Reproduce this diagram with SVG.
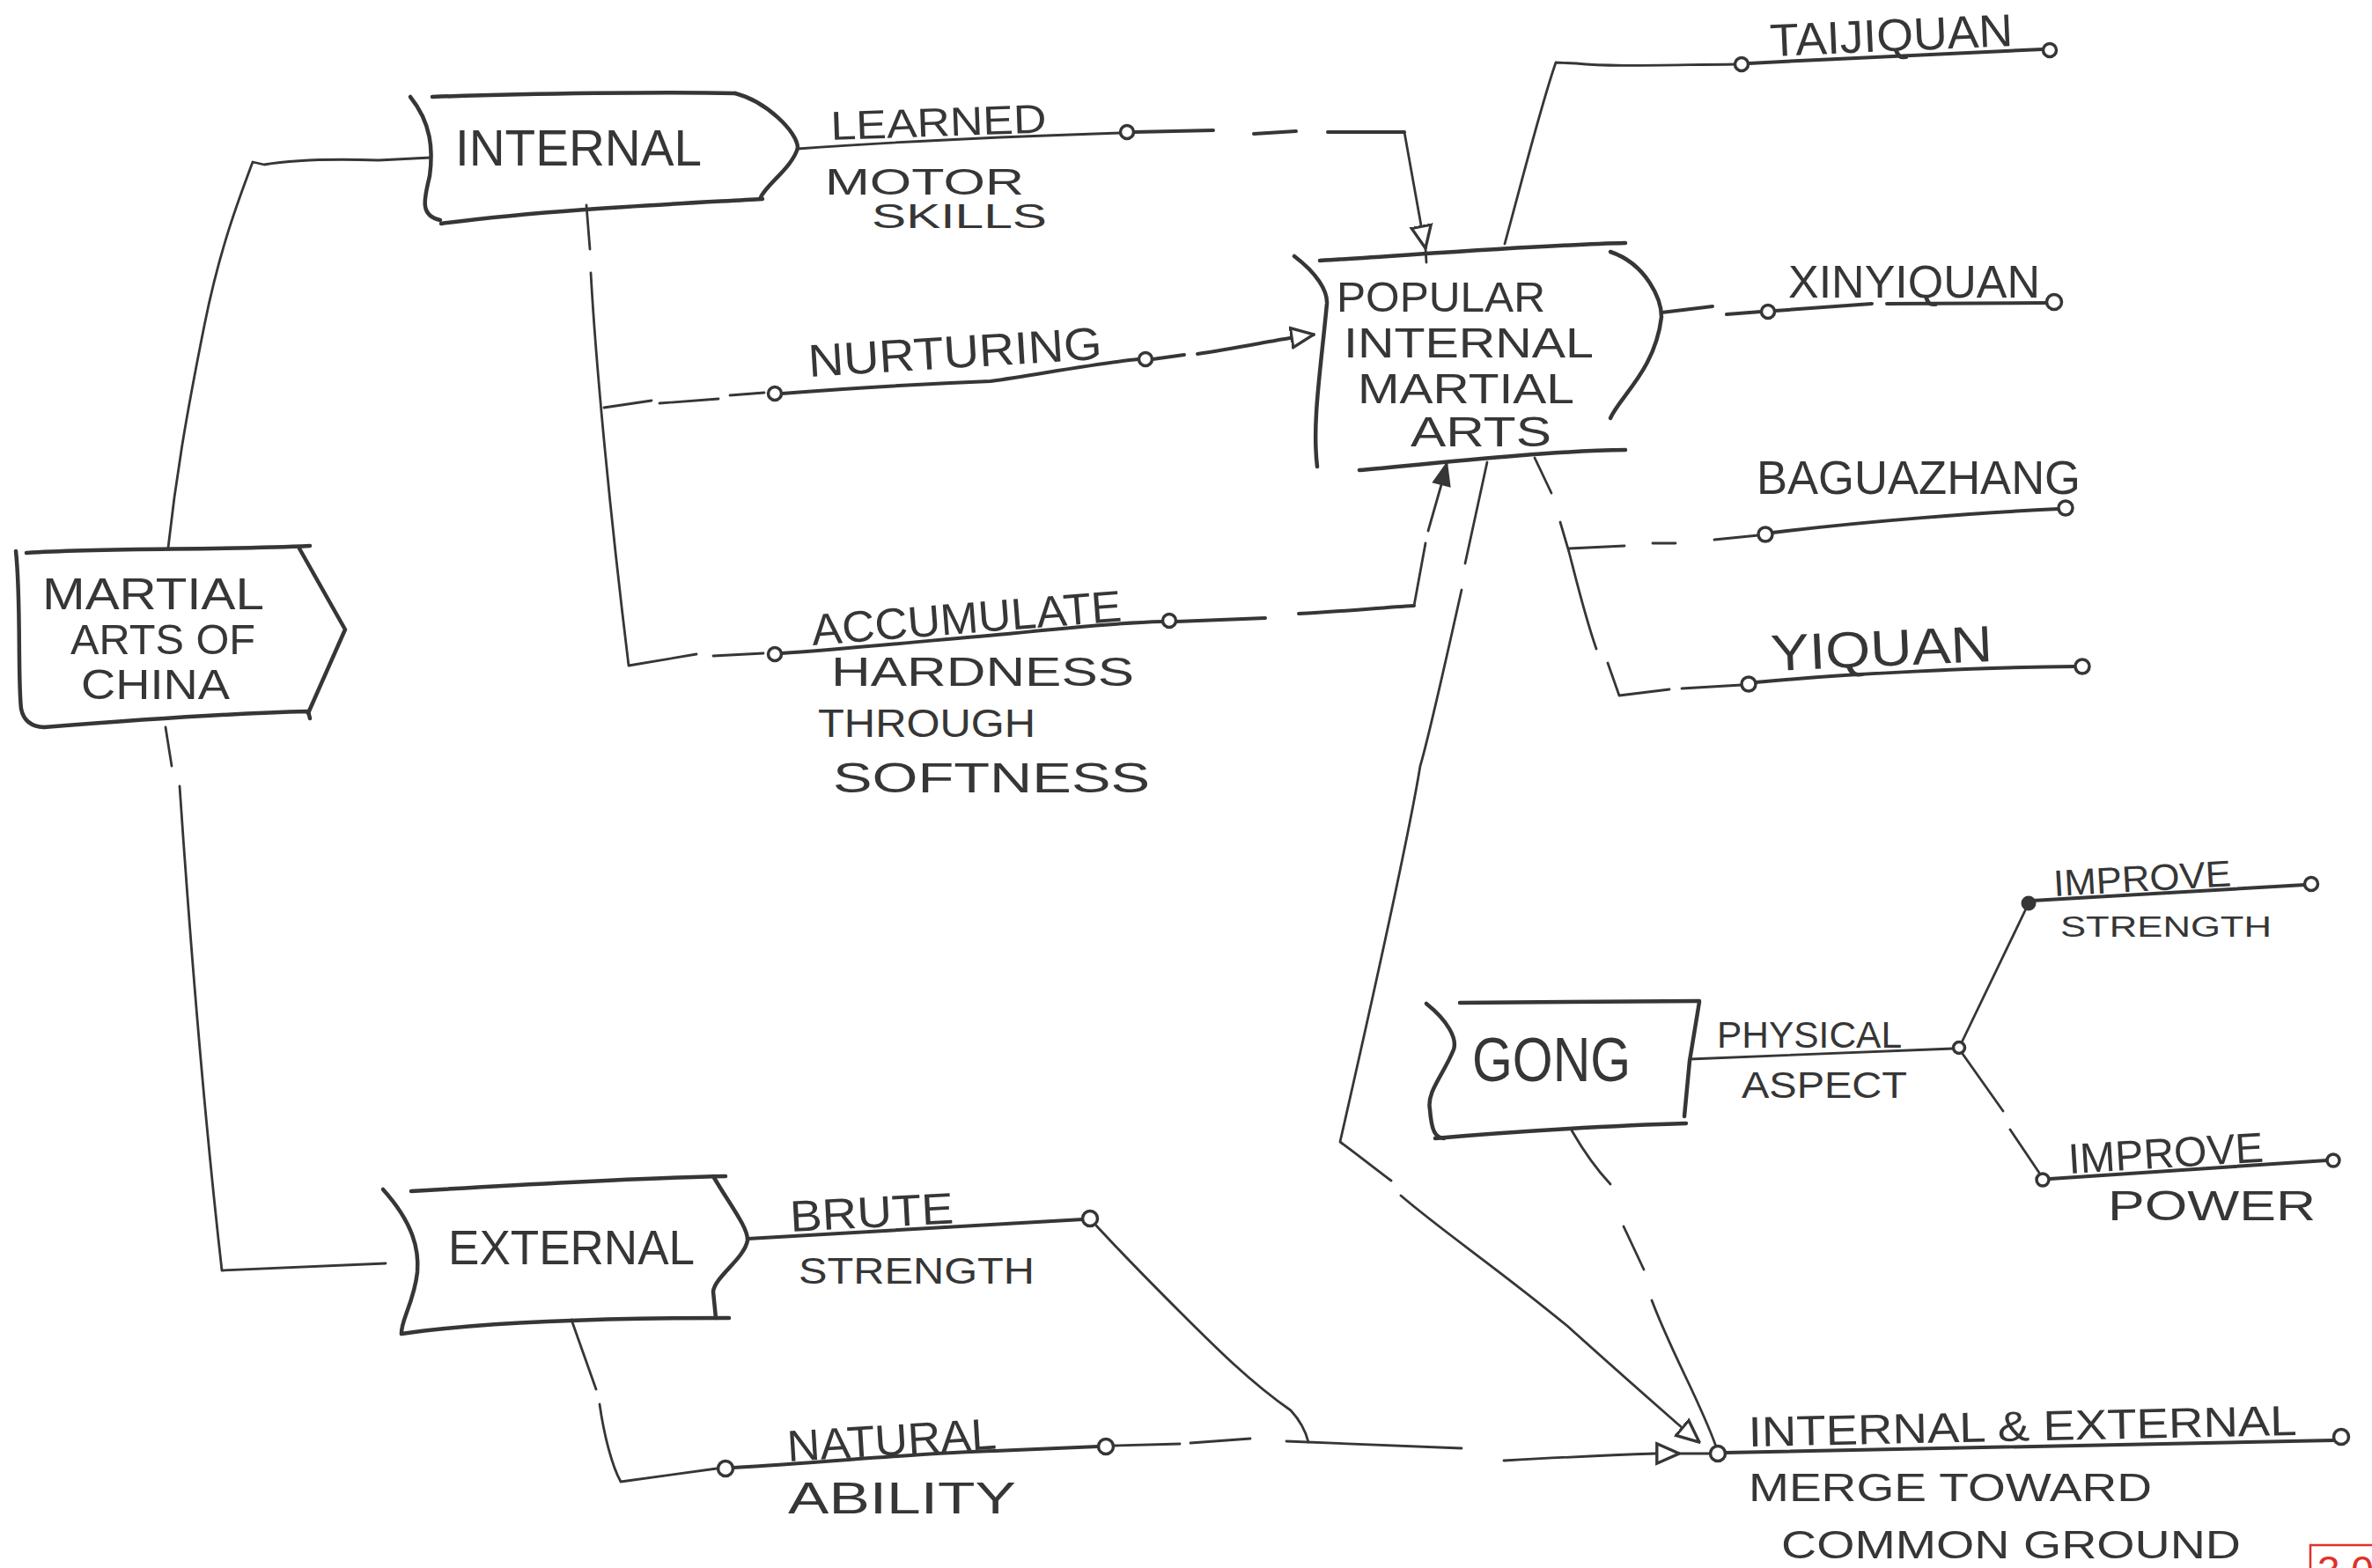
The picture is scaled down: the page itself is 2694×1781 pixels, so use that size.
<svg xmlns="http://www.w3.org/2000/svg" width="2694" height="1781" viewBox="0 0 2694 1781">
<style>
.box{fill:none;stroke:#363636;stroke-width:4.5;stroke-linecap:round;stroke-linejoin:round}
.ln{fill:none;stroke:#363636;stroke-width:2.8;stroke-linecap:round;stroke-linejoin:round}
.ul{fill:none;stroke:#363636;stroke-width:4;stroke-linecap:round;stroke-linejoin:round}
.dot{fill:#fff;stroke:#363636;stroke-width:3.5}
.fdot{fill:#363636;stroke:#363636;stroke-width:2}
.t{font-family:"Liberation Sans",Arial,sans-serif;fill:#363636}
</style>
<defs>
<marker id="arrowOpen" viewBox="0 0 20 20" refX="19" refY="10" markerWidth="28" markerHeight="28" markerUnits="userSpaceOnUse" orient="auto">
<path d="M1,2 L19,10 L1,18 Z" fill="#fff" stroke="#363636" stroke-width="2.4"/>
</marker>
<marker id="arrowFill" viewBox="0 0 20 20" refX="19" refY="10" markerWidth="30" markerHeight="26" markerUnits="userSpaceOnUse" orient="auto">
<path d="M1,3 L19,10 L1,17 Z" fill="#363636" stroke="#363636" stroke-width="2"/>
</marker>
</defs>
<rect width="2694" height="1781" fill="#fff"/>

<g id="connectors">
<!-- Martial -> Internal -->
<path class="ln" d="M191,622 C200,540 212,470 232,370 C250,280 272,225 284,192 L287,184 L300,187 C330,182 370,180 430,182 L489,179"/>
<!-- Martial -> External -->
<path class="ln" d="M188,826 L195,870"/>
<path class="ln" d="M204,893 C214,1040 230,1250 252,1443 L438,1435"/>
<!-- Internal -> Learned -> Popular -->
<path class="ln" d="M906,169 C1000,162 1150,155 1272,151"/>
<circle class="dot" cx="1280" cy="150" r="7.5"/>
<path class="ul" d="M1288,150 L1378,148"/>
<path class="ul" d="M1424,152 L1472,149"/>
<path class="ul" d="M1508,150 L1595,150"/>
<path class="ln" d="M1595,150 L1614,256 L1619,282" marker-end="url(#arrowOpen)"/>
<path class="ln" d="M1619,282 L1620,298"/>
<!-- Internal vertical -->
<path class="ln" d="M666,233 L670,283"/>
<path class="ln" d="M671,310 C676,400 690,560 714,756 L791,743"/>
<path class="ln" d="M810,745 L867,742"/>
<circle class="dot" cx="880" cy="743" r="7.5"/>
<path class="ln" d="M686,463 L740,455"/>
<path class="ln" d="M749,458 L816,453"/>
<path class="ln" d="M829,449 L868,446"/>
<circle class="dot" cx="880" cy="447" r="7.5"/>
<!-- Nurturing -->
<path class="ul" d="M888,447 C950,442 1050,436 1125,433 C1180,425 1250,412 1293,408"/>
<circle class="dot" cx="1301" cy="408" r="7.5"/>
<path class="ul" d="M1309,408 L1345,403"/>
<path class="ul" d="M1360,402 C1400,396 1440,388 1465,384 L1492,380" marker-end="url(#arrowOpen)"/>
<!-- Accumulate -->
<path class="ul" d="M888,742 C950,738 1050,728 1144,720 C1220,712 1280,707 1320,706"/>
<circle class="dot" cx="1328" cy="705" r="7.5"/>
<path class="ul" d="M1336,706 L1437,702"/>
<path class="ul" d="M1475,697 C1520,695 1570,690 1606,688"/>
<path class="ln" d="M1606,688 L1619,617"/>
<path class="ln" d="M1622,603 L1638,547 L1643,527" marker-end="url(#arrowFill)"/>
<!-- Popular -> Taijiquan -->
<path class="ln" d="M1709,277 C1730,200 1750,120 1767,71 L1790,72 C1830,76 1880,74 1970,73"/>
<circle class="dot" cx="1978" cy="73" r="7.5"/>
<path class="ul" d="M1986,72 C2100,66 2220,60 2320,56"/>
<circle class="dot" cx="2328" cy="57" r="7.5"/>
<!-- Popular -> Xinyiquan -->
<path class="ul" d="M1887,355 L1945,348"/>
<path class="ul" d="M1961,357 L2000,354"/>
<circle class="dot" cx="2008" cy="354" r="7.5"/>
<path class="ul" d="M2016,353 L2126,345"/>
<path class="ul" d="M2143,345 L2325,344"/>
<circle class="dot" cx="2333" cy="343" r="8.5"/>
<!-- Popular -> Baguazhang / Yiquan -->
<path class="ln" d="M1743,520 L1762,560"/>
<path class="ln" d="M1772,593 L1782,627 C1788,650 1800,700 1813,737"/>
<path class="ln" d="M1826,753 L1839,790 L1896,783"/>
<path class="ln" d="M1910,782 L1978,778"/>
<circle class="dot" cx="1986" cy="777" r="8"/>
<path class="ln" d="M1782,623 L1845,620"/>
<path class="ln" d="M1877,617 L1903,617"/>
<path class="ln" d="M1947,613 L1997,608"/>
<circle class="dot" cx="2005" cy="607" r="8"/>
<path class="ul" d="M2013,605 C2120,592 2250,582 2338,578"/>
<circle class="dot" cx="2346" cy="577" r="8"/>
<path class="ul" d="M1994,775 C2100,765 2250,758 2357,757"/>
<circle class="dot" cx="2365" cy="757" r="8"/>
<!-- Popular bottom -> merge -->
<path class="ln" d="M1689,525 L1664,640"/>
<path class="ln" d="M1660,670 C1640,760 1622,840 1613,870 C1600,950 1560,1130 1522,1297 C1540,1310 1565,1330 1580,1341"/>
<path class="ln" d="M1591,1358 C1640,1400 1700,1440 1780,1506 C1840,1560 1880,1595 1905,1617 L1930,1638" marker-end="url(#arrowOpen)"/>
<!-- Gong bottom -> merge -->
<path class="ln" d="M1785,1284 C1800,1310 1815,1330 1829,1345"/>
<path class="ln" d="M1844,1393 L1867,1442"/>
<path class="ln" d="M1876,1477 C1900,1540 1930,1590 1949,1643"/>
<!-- External -> Brute strength -> merge -->
<path class="ul" d="M849,1407 C1000,1398 1130,1390 1230,1385"/>
<circle class="dot" cx="1238" cy="1384" r="8.5"/>
<path class="ln" d="M1245,1392 C1280,1430 1310,1460 1340,1490 C1380,1530 1420,1570 1466,1602 C1478,1615 1484,1630 1486,1638"/>
<path class="ln" d="M1461,1637 L1660,1645"/>
<path class="ln" d="M1708,1659 C1780,1655 1850,1652 1880,1651 L1907,1651" marker-end="url(#arrowOpen)"/>
<path class="ln" d="M1907,1651 L1943,1651"/>
<!-- External -> Natural ability -->
<path class="ln" d="M649,1499 L677,1578"/>
<path class="ln" d="M681,1595 C686,1630 695,1665 705,1683 L814,1668"/>
<circle class="dot" cx="824" cy="1668" r="8.5"/>
<path class="ul" d="M833,1667 C950,1660 1050,1650 1130,1648 L1247,1643"/>
<circle class="dot" cx="1256" cy="1643" r="8.5"/>
<path class="ln" d="M1265,1642 L1340,1640"/>
<path class="ln" d="M1352,1639 L1420,1634"/>
<!-- Gong -> Physical aspect -->
<path class="ln" d="M1919,1203 L2218,1191"/>
<circle class="dot" cx="2225" cy="1190" r="6.5"/>
<path class="ln" d="M2228,1184 L2304,1026"/>
<circle class="fdot" cx="2304" cy="1026" r="7.5"/>
<path class="ul" d="M2308,1023 L2618,1005"/>
<circle class="dot" cx="2625" cy="1004" r="7.5"/>
<path class="ln" d="M2229,1197 L2275,1262"/>
<path class="ln" d="M2283,1283 L2316,1332"/>
<circle class="dot" cx="2320" cy="1340" r="7"/>
<path class="ul" d="M2328,1339 L2643,1318"/>
<circle class="dot" cx="2650" cy="1318" r="7"/>
<!-- Merge -->
<circle class="dot" cx="1951" cy="1651" r="8.5"/>
<path class="ul" d="M1960,1650 L2650,1636"/>
<circle class="dot" cx="2659" cy="1632" r="8.5"/>
</g>

<g id="node-martial">
<path class="box" d="M30,628 C120,622 250,625 352,620"/>
<path class="box" d="M18,626 C24,680 20,770 24,805 Q28,825 50,826"/>
<path class="box" d="M50,826 C150,818 260,810 350,808 L352,816"/>
<path class="box" d="M340,623 L392,715 L350,810"/>
<text class="t" x="48" y="692" font-size="50" textLength="252" lengthAdjust="spacingAndGlyphs">MARTIAL</text>
<text class="t" x="80" y="743" font-size="48" textLength="210" lengthAdjust="spacingAndGlyphs">ARTS OF</text>
<text class="t" x="92" y="794" font-size="48" textLength="169" lengthAdjust="spacingAndGlyphs">CHINA</text>
</g>

<g id="node-internal">
<path class="box" d="M491,110 C600,106 760,104 835,106"/>
<path class="box" d="M835,106 C870,115 906,150 906,168 C900,190 870,210 864,224"/>
<path class="box" d="M866,226 C760,232 620,238 501,254"/>
<path class="box" d="M466,110 C490,140 492,170 488,200 C482,225 476,245 500,250"/>
<text class="t" x="517" y="188" font-size="58" textLength="280" lengthAdjust="spacingAndGlyphs">INTERNAL</text>
</g>

<g id="node-external">
<path class="box" d="M467,1353 C600,1345 720,1338 824,1336"/>
<path class="box" d="M435,1351 C470,1390 476,1420 474,1445 C470,1480 455,1500 456,1515"/>
<path class="box" d="M456,1515 C560,1500 700,1497 828,1497"/>
<path class="box" d="M810,1336 C830,1370 850,1395 849,1409 C845,1430 812,1450 810,1467 L813,1497"/>
<text class="t" x="509" y="1436" font-size="56" textLength="280" lengthAdjust="spacingAndGlyphs">EXTERNAL</text>
</g>

<g id="node-popular">
<path class="box" d="M1499,296 C1600,290 1750,278 1846,276"/>
<path class="box" d="M1470,291 C1495,310 1508,330 1507,345 C1500,420 1490,480 1496,530"/>
<path class="box" d="M1544,534 C1640,525 1760,512 1846,511"/>
<path class="box" d="M1829,286 C1870,300 1887,340 1887,360 C1880,420 1840,450 1829,475"/>
<text class="t" x="1518" y="354" font-size="48" textLength="237" lengthAdjust="spacingAndGlyphs">POPULAR</text>
<text class="t" x="1526" y="406" font-size="48" textLength="284" lengthAdjust="spacingAndGlyphs">INTERNAL</text>
<text class="t" x="1542" y="458" font-size="48" textLength="246" lengthAdjust="spacingAndGlyphs">MARTIAL</text>
<text class="t" x="1602" y="507" font-size="48" textLength="160" lengthAdjust="spacingAndGlyphs">ARTS</text>
</g>

<g id="node-gong">
<path class="box" d="M1658,1139 L1930,1137"/>
<path class="box" d="M1620,1140 C1645,1160 1655,1180 1651,1192 C1640,1220 1620,1240 1624,1260 C1626,1285 1630,1292 1640,1293"/>
<path class="box" d="M1630,1293 C1720,1285 1840,1278 1915,1276"/>
<path class="box" d="M1930,1138 L1919,1205 L1913,1268"/>
<text class="t" x="1672" y="1228" font-size="70" textLength="180" lengthAdjust="spacingAndGlyphs">GONG</text>
</g>

<g id="label-learned">
<text class="t" x="944" y="159" font-size="46" textLength="245" lengthAdjust="spacingAndGlyphs" transform="rotate(-2 944 159)">LEARNED</text>
<text class="t" x="937" y="221" font-size="42" textLength="226" lengthAdjust="spacingAndGlyphs">MOTOR</text>
<text class="t" x="990" y="259" font-size="38" textLength="199" lengthAdjust="spacingAndGlyphs">SKILLS</text>
</g>
<g id="label-nurturing">
<text class="t" x="919" y="428" font-size="52" textLength="334" lengthAdjust="spacingAndGlyphs" transform="rotate(-3.5 919 428)">NURTURING</text>
</g>
<g id="label-accumulate">
<text class="t" x="923" y="733" font-size="50" textLength="353" lengthAdjust="spacingAndGlyphs" transform="rotate(-4.5 923 733)">ACCUMULATE</text>
<text class="t" x="944" y="779" font-size="46" textLength="344" lengthAdjust="spacingAndGlyphs">HARDNESS</text>
<text class="t" x="929" y="837" font-size="44" textLength="247" lengthAdjust="spacingAndGlyphs">THROUGH</text>
<text class="t" x="946" y="900" font-size="48" textLength="360" lengthAdjust="spacingAndGlyphs">SOFTNESS</text>
</g>
<g id="node-taijiquan">
<text class="t" x="2011" y="64" font-size="52" textLength="276" lengthAdjust="spacingAndGlyphs" transform="rotate(-2.5 2011 64)">TAIJIQUAN</text>
</g>
<g id="node-xinyiquan">
<text class="t" x="2031" y="338" font-size="52" textLength="286" lengthAdjust="spacingAndGlyphs">XINYIQUAN</text>
</g>
<g id="node-baguazhang">
<text class="t" x="1995" y="561" font-size="54" textLength="368" lengthAdjust="spacingAndGlyphs">BAGUAZHANG</text>
</g>
<g id="node-yiquan">
<text class="t" x="2012" y="762" font-size="58" textLength="252" lengthAdjust="spacingAndGlyphs" transform="rotate(-2.5 2012 762)">YIQUAN</text>
</g>
<g id="label-brute">
<text class="t" x="898" y="1399" font-size="50" textLength="186" lengthAdjust="spacingAndGlyphs" transform="rotate(-3 898 1399)">BRUTE</text>
<text class="t" x="907" y="1458" font-size="42" textLength="268" lengthAdjust="spacingAndGlyphs">STRENGTH</text>
</g>
<g id="label-natural">
<text class="t" x="895" y="1660" font-size="50" textLength="238" lengthAdjust="spacingAndGlyphs" transform="rotate(-3.5 895 1660)">NATURAL</text>
<text class="t" x="895" y="1719" font-size="50" textLength="259" lengthAdjust="spacingAndGlyphs">ABILITY</text>
</g>
<g id="label-physical">
<text class="t" x="1950" y="1190" font-size="42" textLength="210" lengthAdjust="spacingAndGlyphs">PHYSICAL</text>
<text class="t" x="1978" y="1247" font-size="42" textLength="188" lengthAdjust="spacingAndGlyphs">ASPECT</text>
</g>
<g id="node-improve-strength">
<text class="t" x="2333" y="1018" font-size="42" textLength="202" lengthAdjust="spacingAndGlyphs" transform="rotate(-3.3 2333 1018)">IMPROVE</text>
<text class="t" x="2340" y="1064" font-size="34" textLength="240" lengthAdjust="spacingAndGlyphs">STRENGTH</text>
</g>
<g id="node-improve-power">
<text class="t" x="2350" y="1333" font-size="48" textLength="222" lengthAdjust="spacingAndGlyphs" transform="rotate(-3.5 2350 1333)">IMPROVE</text>
<text class="t" x="2394" y="1386" font-size="48" textLength="236" lengthAdjust="spacingAndGlyphs">POWER</text>
</g>
<g id="node-merge">
<text class="t" x="1986" y="1643" font-size="48" textLength="623" lengthAdjust="spacingAndGlyphs" transform="rotate(-1.2 1986 1643)">INTERNAL &amp; EXTERNAL</text>
<text class="t" x="1986" y="1705" font-size="44" textLength="458" lengthAdjust="spacingAndGlyphs">MERGE TOWARD</text>
<text class="t" x="2023" y="1770" font-size="44" textLength="522" lengthAdjust="spacingAndGlyphs">COMMON GROUND</text>
</g>
<g id="page-number">
<rect x="2624" y="1755" width="100" height="60" fill="none" stroke="#e0302a" stroke-width="2.5"/>
<text x="2632" y="1800" font-family="Liberation Sans, Arial, sans-serif" font-size="46" fill="#e0302a">3.0</text>
</g>
</svg>
